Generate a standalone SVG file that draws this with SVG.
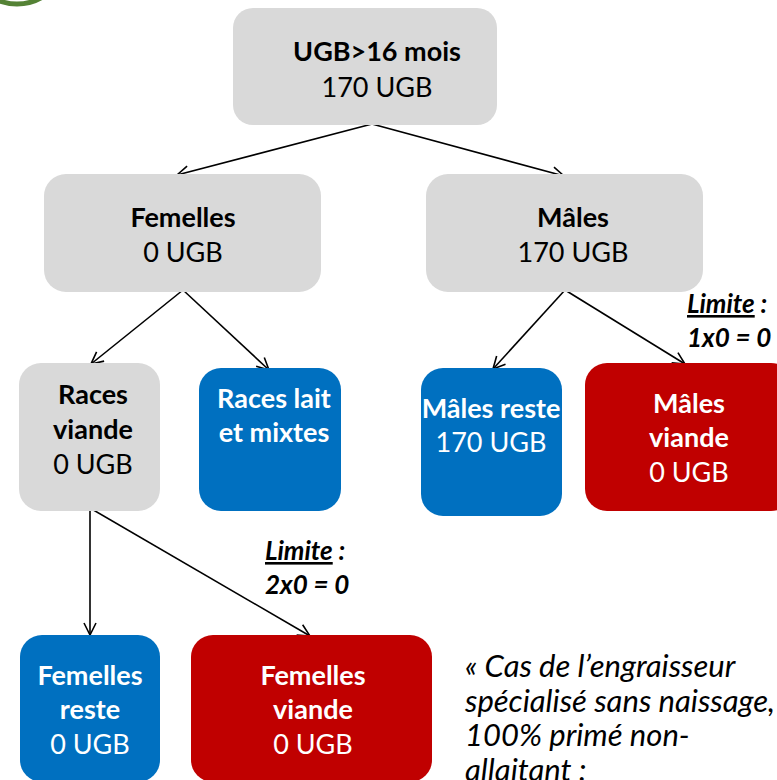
<svg xmlns="http://www.w3.org/2000/svg" width="777" height="780" viewBox="0 0 777 780">
<style>
  text { font-family: Lato, "Open Sans", "Liberation Sans", sans-serif; font-size: 27px; text-anchor: middle; }
  .b { font-weight: bold; }
  .dk { fill: #000000; }
  .wt { fill: #FFFFFF; }
  .grey { fill: #D9D9D9; }
  .blue { fill: #0070C0; }
  .red { fill: #C00000; }
  .lim { font-weight: bold; font-style: italic; font-size: 26px; text-anchor: start; fill: #000; }
  .note { font-style: italic; font-size: 31px; text-anchor: start; fill: #000; }
  .conn line { stroke: #000; stroke-width: 1.6; marker-end: url(#arr); }
</style>
<defs>
  <marker id="arr" markerUnits="userSpaceOnUse" markerWidth="16" markerHeight="16" refX="13" refY="7" orient="auto">
    <path d="M1,1 L13,7 L1,13" fill="none" stroke="#000" stroke-width="1.6"/>
  </marker>
</defs>
<rect width="777" height="780" fill="#FFFFFF"/>
<circle cx="17" cy="-45" r="49" fill="none" stroke="#548235" stroke-width="5"/>

<g class="conn" id="connectors">
  <line x1="372" y1="124" x2="177" y2="175"/>
  <line x1="372" y1="124" x2="564" y2="176"/>
  <line x1="183" y1="290" x2="91" y2="364"/>
  <line x1="183" y1="290" x2="269" y2="370"/>
  <line x1="565" y1="290" x2="493" y2="369"/>
  <line x1="565" y1="290" x2="685" y2="364"/>
  <line x1="90" y1="508" x2="90" y2="635"/>
  <line x1="90" y1="508" x2="310" y2="636"/>
</g>

<g id="n-top">
  <rect class="grey" x="233" y="8" width="264" height="117" rx="20"/>
  <text class="b dk" x="377" y="61">UGB&gt;16 mois</text>
  <text class="dk" x="377" y="97">170 UGB</text>
</g>
<g id="n-femelles">
  <rect class="grey" x="44" y="174" width="277" height="118" rx="22"/>
  <text class="b dk" x="183" y="227">Femelles</text>
  <text class="dk" x="183" y="262">0 UGB</text>
</g>
<g id="n-males">
  <rect class="grey" x="426" y="174" width="277" height="118" rx="22"/>
  <text class="b dk" x="573" y="227">Mâles</text>
  <text class="dk" x="573" y="262">170 UGB</text>
</g>
<g id="n-races-viande">
  <rect class="grey" x="19" y="363" width="141" height="148" rx="22"/>
  <text class="b dk" x="93" y="404">Races</text>
  <text class="b dk" x="93" y="439">viande</text>
  <text class="dk" x="93" y="474">0 UGB</text>
</g>
<g id="n-races-lait">
  <rect class="blue" x="199" y="368" width="142" height="143" rx="22"/>
  <text class="b wt" x="274" y="408">Races lait</text>
  <text class="b wt" x="274" y="442">et mixtes</text>
</g>
<g id="n-males-reste">
  <rect class="blue" x="421" y="368" width="141" height="148" rx="22"/>
  <text class="b wt" x="491" y="418">Mâles reste</text>
  <text class="wt" x="491" y="452">170 UGB</text>
</g>
<g id="n-males-viande">
  <rect class="red" x="585" y="363" width="208" height="148" rx="22"/>
  <text class="b wt" x="689" y="413">Mâles</text>
  <text class="b wt" x="689" y="447">viande</text>
  <text class="wt" x="689" y="482">0 UGB</text>
</g>
<g id="n-femelles-reste">
  <rect class="blue" x="20" y="635" width="140" height="147" rx="22"/>
  <text class="b wt" x="90" y="685">Femelles</text>
  <text class="b wt" x="90" y="719">reste</text>
  <text class="wt" x="90" y="754">0 UGB</text>
</g>
<g id="n-femelles-viande">
  <rect class="red" x="191" y="635" width="241" height="147" rx="22"/>
  <text class="b wt" x="313" y="685">Femelles</text>
  <text class="b wt" x="313" y="719">viande</text>
  <text class="wt" x="313" y="754">0 UGB</text>
</g>

<g id="limite-1">
  <text class="lim" x="687" y="313"><tspan text-decoration="underline">Limite</tspan> :</text>
  <text class="lim" x="687" y="347">1x0 = 0</text>
</g>
<g id="limite-2">
  <text class="lim" x="265" y="560"><tspan text-decoration="underline">Limite</tspan> :</text>
  <text class="lim" x="265" y="594">2x0 = 0</text>
</g>
<g id="note">
  <text class="note" x="465" y="677">« Cas de l’engraisseur</text>
  <text class="note" x="465" y="712">spécialisé sans naissage,</text>
  <text class="note" x="465" y="746">100% primé non-</text>
  <text class="note" x="465" y="781">allaitant :</text>
</g>
</svg>
